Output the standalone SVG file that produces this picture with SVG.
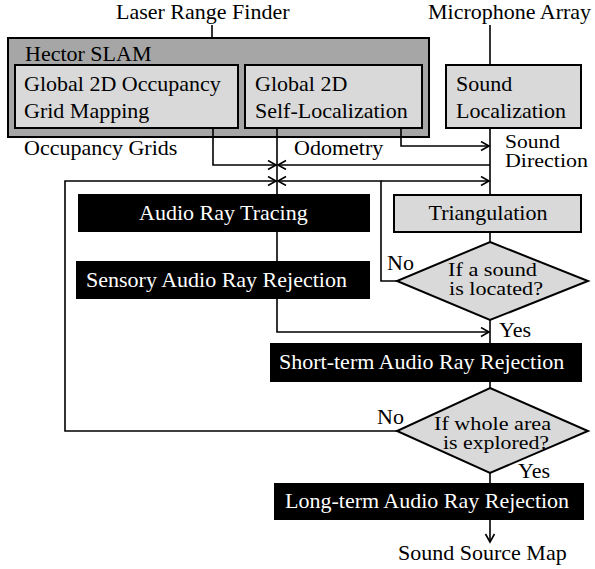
<svg xmlns="http://www.w3.org/2000/svg" width="595" height="569" viewBox="0 0 595 569">
<style>
text{font-family:"Liberation Serif","Times New Roman",serif;font-size:22px;fill:#000}
.w{fill:#fff}
.c{text-anchor:middle}
.s{font-size:19.5px}
.outer{fill:#a6a6a6;stroke:#000;stroke-width:2}
.box{fill:#d9d9d9;stroke:#000;stroke-width:2}
.blk{fill:#000;stroke:none}
.dia{fill:#d9d9d9;stroke:#000;stroke-width:2}
.ln{fill:none;stroke:#000;stroke-width:1.6}
.ar{marker-end:url(#arr)}
</style>
<defs>
<marker id="arr" markerUnits="userSpaceOnUse" markerWidth="12" markerHeight="12" refX="9" refY="5" orient="auto">
<path d="M1,0.5 L9,5 L1,9.5" fill="none" stroke="#000" stroke-width="1.6"/>
</marker>
</defs>
<rect width="595" height="569" fill="#fff"/>
<g id="hector-slam">
<rect class="outer" x="8" y="38" width="421" height="99"/>
<text x="25" y="61">Hector SLAM</text>
</g>
<g id="occupancy-mapping">
<rect class="box" x="15" y="65" width="223" height="63"/>
<text x="24" y="91">Global 2D Occupancy</text>
<text x="24" y="118">Grid Mapping</text>
</g>
<g id="self-localization">
<rect class="box" x="245" y="65" width="177" height="63"/>
<text x="255" y="91">Global 2D</text>
<text x="255" y="118">Self-Localization</text>
</g>
<g id="sound-localization">
<rect class="box" x="446" y="65" width="135" height="63"/>
<text x="456" y="91">Sound</text>
<text x="456" y="118">Localization</text>
</g>
<g id="audio-ray-tracing">
<rect class="blk" x="78" y="194" width="292" height="38"/>
<text class="w" x="139" y="220">Audio Ray Tracing</text>
</g>
<g id="sensory-rejection">
<rect class="blk" x="76" y="261" width="294" height="38"/>
<text class="w" x="86" y="287">Sensory Audio Ray Rejection</text>
</g>
<g id="triangulation">
<rect class="box" x="394" y="195" width="187" height="37"/>
<text class="c" x="488" y="220">Triangulation</text>
</g>
<g id="sound-located">
<polygon class="dia" points="490,242 588,281 490,320 397,281"/>
<text class="s" x="448" y="276" textLength="89" lengthAdjust="spacingAndGlyphs">If a sound</text>
<text class="s" x="449" y="295" textLength="94" lengthAdjust="spacingAndGlyphs">is located?</text>
</g>
<g id="short-term-rejection">
<rect class="blk" x="270" y="343" width="312" height="39"/>
<text class="w" x="279" y="369">Short-term Audio Ray Rejection</text>
</g>
<g id="area-explored">
<polygon class="dia" points="490,388 588,431 490,473 397,431"/>
<text class="s" x="434" y="430" textLength="117" lengthAdjust="spacingAndGlyphs">If whole area</text>
<text class="s" x="443" y="449" textLength="106" lengthAdjust="spacingAndGlyphs">is explored?</text>
</g>
<g id="long-term-rejection">
<rect class="blk" x="274" y="483" width="310" height="37"/>
<text class="w" x="285" y="508">Long-term Audio Ray Rejection</text>
</g>
<g id="connectors">
<path class="ln" d="M212,25 V38"/>
<path class="ln" d="M490,25 V65"/>
<path class="ln ar" d="M213,128 V165 H276"/>
<path class="ln" d="M277,128 V194"/>
<path class="ln" d="M277,232 V261"/>
<path class="ln ar" d="M277,299 V332 H489"/>
<path class="ln ar" d="M401,128 V146 H489"/>
<path class="ln" d="M490,128 V195"/>
<path class="ln ar" d="M490,165 H278"/>
<path class="ln ar" d="M397,281 H381 V181 H278"/>
<path class="ln ar" d="M381,181 H489"/>
<path class="ln" d="M490,232 V242"/>
<path class="ln" d="M490,320 V343"/>
<path class="ln" d="M490,382 V388"/>
<path class="ln ar" d="M397,431 H65 V181 H276"/>
<path class="ln" d="M490,473 V483"/>
<path class="ln ar" d="M490,520 V542"/>
</g>
<g id="labels">
<text x="116" y="19">Laser Range Finder</text>
<text x="428" y="19">Microphone Array</text>
<text x="24" y="155">Occupancy Grids</text>
<text x="294" y="155">Odometry</text>
<text class="s" x="505" y="148" textLength="55" lengthAdjust="spacingAndGlyphs">Sound</text>
<text class="s" x="505" y="167" textLength="83" lengthAdjust="spacingAndGlyphs">Direction</text>
<text x="387" y="270">No</text>
<text x="499" y="337">Yes</text>
<text x="377" y="424">No</text>
<text x="518" y="478">Yes</text>
<text x="398" y="560">Sound Source Map</text>
</g>
</svg>
